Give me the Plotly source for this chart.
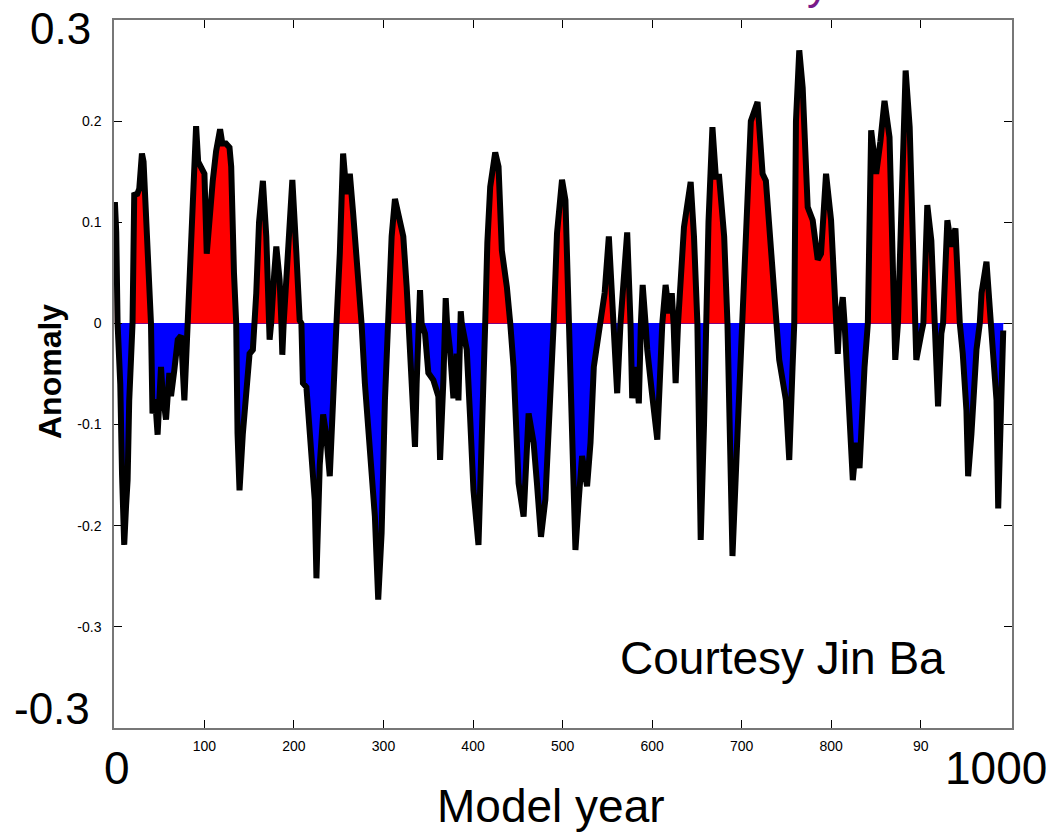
import plotly.graph_objects as go

# Model year / anomaly (turning points and zero crossings)
years = [
    0, 1.5, 3, 6, 8, 10.4, 12.5, 14.2, 16, 19.7,
    21.6, 25, 27.2, 30.2, 32, 34, 36.5, 40.3, 42, 45,
    47.7, 51.5, 53.3, 57.1, 60.8, 62.7, 66.4, 70.2, 73.9, 77.6,
    81.3, 84, 87, 90.7, 93, 96.3, 100, 102.6, 106, 109.3,
    113, 117.5, 120, 124, 128, 129.9, 133, 135.5, 137, 139.2,
    142.9, 147, 150.4, 154.1, 156, 157.9, 161, 165.3, 169.1, 170.9,
    172, 172.8, 174.5, 176.5, 178, 180.3, 184, 186, 187, 188.5,
    191, 193.3, 198.2, 202.7, 206.4, 208.3, 210, 213.9, 219.5, 223.2,
    225.1, 228.8, 232.6, 236, 240, 243.7, 247.5, 251.2, 254.9, 258.7,
    262.4, 266.1, 269.9, 273.6, 275.5, 279.2, 284.8, 290.4, 294.1, 297.9,
    301.6, 305.3, 309.1, 312.8, 318.4, 322.1, 325.9, 327.7, 331.4, 335.2,
    337, 339, 340.8, 342.6, 346.4, 350.1, 355.7, 361.3, 363.2, 366.9,
    368, 369.5, 371, 372.5, 374.3, 378.1, 381.8, 383.7, 385.5, 386.3,
    387.4, 390, 393, 396.7, 400.5, 406.1, 409.8, 413.6, 416, 419.2,
    424.8, 428.5, 432.2, 437.8, 441.6, 445.3, 450.9, 456.5, 462.1, 467.7,
    471.4, 475.9, 480.8, 486.4, 490.1, 493.8, 499.4, 503.2, 506.9, 510.6,
    514.4, 518.1, 521.8, 527.4, 531.2, 534.9, 540.5, 543.1, 547, 551.7,
    555.4, 557.5, 561, 564.7, 568, 572.2, 575.9, 577.8, 581.5, 585.2,
    587.5, 589.5, 592.7, 594.6, 600, 605.8, 611.4, 615.1, 619, 622,
    624, 626.3, 629, 631, 635.6, 643.1, 646.8, 650.6, 654.3, 658,
    659.9, 663, 667.4, 671.2, 674.9, 680.5, 684.2, 686, 689.8, 695.4,
    701, 703, 710.3, 717.8, 723.4, 727.1, 732.7, 738.3, 742, 749.5,
    753.2, 756.9, 758.8, 760.7, 764.4, 768.2, 773.8, 779.4, 785, 788.7,
    794.3, 799.9, 805.5, 807.4, 809, 813, 815, 820.5, 824.2, 828,
    831.7, 837.3, 841, 844.7, 850.3, 855, 859.6, 865.2, 869, 870.8,
    871.6, 874.6, 880.2, 883.2, 887.7, 893.3, 895.1, 900.7, 903, 907.4,
    911.9, 915.7, 919.4, 923.1, 925, 929.8, 934.3, 938.8, 943.7, 947,
    951.1, 953, 956.7, 962.3, 966, 968, 973.5, 978.4, 984.7, 986.6,
    988.5, 992.2,
]
anomaly = [
    0.12, 0.09, 0, -0.06, -0.15, -0.219, -0.18, -0.155, -0.076, 0,
    0.127, 0.128, 0.133, 0.168, 0.16, 0.12, 0.06, 0, -0.089, -0.075,
    -0.110, -0.043, -0.069, -0.095, -0.049, -0.072, -0.046, -0.016, -0.012, -0.076,
    0, 0.06, 0.14, 0.195, 0.16, 0.155, 0.148, 0.069, 0.11, 0.141,
    0.17, 0.192, 0.178, 0.178, 0.174, 0.155, 0.05, 0, -0.109, -0.165,
    -0.109, -0.06, -0.030, -0.026, 0, 0.030, 0.10, 0.141, 0.086, 0.036,
    0, -0.016, 0, 0.020, 0.05, 0.076, 0.043, 0, -0.031, 0,
    0.04, 0.069, 0.142, 0.069, 0.003, 0, -0.059, -0.063, -0.125, -0.174,
    -0.252, -0.14, -0.09, -0.11, -0.151, -0.09, 0, 0.069, 0.168, 0.128,
    0.148, 0.109, 0.069, 0.036, 0, -0.059, -0.118, -0.191, -0.273, -0.207,
    -0.076, 0, 0.086, 0.123, 0.102, 0.086, 0.036, 0, -0.059, -0.122,
    -0.06, 0, 0.033, 0, -0.010, -0.049, -0.056, -0.072, -0.135, -0.056,
    0, 0.025, 0, -0.01, -0.026, -0.074, -0.030, -0.076, 0, 0.012,
    0, -0.01, -0.026, -0.092, -0.165, -0.219, -0.125, 0, 0.08, 0.135,
    0.169, 0.155, 0.072, 0.036, 0, -0.043, -0.158, -0.191, -0.089, -0.118,
    -0.158, -0.211, -0.174, -0.076, 0, 0.089, 0.142, 0.122, 0, -0.076,
    -0.224, -0.174, -0.131, -0.161, -0.118, -0.043, -0.010, 0, 0.03, 0.086,
    0.023, 0, -0.069, 0, 0.04, 0.09, 0, -0.074, -0.043, -0.079,
    0, 0.038, 0, -0.026, -0.07, -0.115, 0, 0.038, 0.01, 0.03,
    0, -0.059, 0, 0.026, 0.095, 0.14, 0.086, 0, -0.214, -0.1,
    0, 0.1, 0.194, 0.145, 0.145, 0.086, 0, -0.07, -0.23, -0.109,
    0, 0.056, 0.20, 0.219, 0.148, 0.141, 0.069, 0, -0.036, -0.076,
    -0.135, -0.043, 0, 0.2, 0.27, 0.233, 0.115, 0.102, 0.063, 0.069,
    0.148, 0.102, 0, -0.030, 0, 0.026, 0, -0.086, -0.155, -0.118,
    -0.143, -0.043, 0, 0.191, 0.148, 0.18, 0.220, 0.184, 0.05, 0,
    -0.036, 0, 0.20, 0.25, 0.194, 0, -0.036, -0.01, 0, 0.117,
    0.082, 0, -0.082, -0.01, 0, 0.102, 0.076, 0.094, 0, -0.03,
    -0.086, -0.151, -0.109, -0.026, 0, 0.03, 0.061, 0, -0.076, -0.183,
    -0.109, -0.007,
]

x_tickvals = [100, 200, 300, 400, 500, 600, 700, 800, 900]
x_ticktext = ['100', '200', '300', '400', '500', '600', '700', '800', '90']
y_tickvals = [-0.3, -0.2, -0.1, 0, 0.1, 0.2]
y_ticktext = ['-0.3', '-0.2', '-0.1', '0', '0.1', '0.2']

W, H = 1052, 837
L, R, T, B = 114, 40, 20, 109
FONT = 'Liberation Sans, Arial, sans-serif'


def px_to_paper(px, py):
    # page pixel position -> paper coordinates of the plot area
    return (px - L) / (W - L - R), (H - B - py) / (H - T - B)


positive = [max(v, 0) for v in anomaly]
negative = [min(v, 0) for v in anomaly]

fig = go.Figure()

# Red fill above zero, blue fill below
fig.add_trace(go.Scatter(x=years, y=positive, mode='lines', fill='tozeroy',
                         fillcolor='#ff0000', line=dict(width=0, color='#ff0000'),
                         hoverinfo='skip'))
fig.add_trace(go.Scatter(x=years, y=negative, mode='lines', fill='tozeroy',
                         fillcolor='#0000ff', line=dict(width=0, color='#0000ff'),
                         hoverinfo='skip'))
# Thick black curve
fig.add_trace(go.Scatter(x=years, y=anomaly, mode='lines',
                         line=dict(color='black', width=6)))

fig.update_xaxes(
    range=[-1, 1002], showgrid=False, zeroline=False,
    showline=True, linecolor='#777777', linewidth=1.5, mirror='ticks',
    ticks='inside', ticklen=8, tickcolor='black', tickwidth=1,
    tickvals=x_tickvals, ticktext=x_ticktext,
    tickfont=dict(family=FONT, size=14, color='black'),
    ticklabelstandoff=4,
)
fig.update_yaxes(
    range=[-0.4, 0.3], showgrid=False,
    zeroline=True, zerolinecolor='#0000ff', zerolinewidth=1.2,
    showline=True, linecolor='#777777', linewidth=1.5, mirror='ticks',
    ticks='inside', ticklen=8, tickcolor='black', tickwidth=1,
    tickvals=y_tickvals, ticktext=y_ticktext,
    tickfont=dict(family=FONT, size=14, color='black'),
    ticklabelstandoff=8,
)

# Big overlay labels
labels = [
    ('0.3', 60, 28, 44, 'black'),
    ('-0.3', 52, 708, 44, 'black'),
    ('0', 117, 768, 46, 'black'),
    ('1000', 996, 768, 46, 'black'),
    ('Model year', 551, 806, 46, 'black'),
    ('Courtesy Jin Ba', 782, 658, 46, 'black'),
    ('y', 818, -17, 44, '#7a1a8a'),
]
for text, px, py, size, color in labels:
    xp, yp = px_to_paper(px, py)
    fig.add_annotation(text=text, x=xp, y=yp, xref='paper', yref='paper',
                       xanchor='center', yanchor='middle', showarrow=False,
                       font=dict(family=FONT, size=size, color=color))

xp, yp = px_to_paper(50, 372)
fig.add_annotation(text='<b>Anomaly</b>', x=xp, y=yp, xref='paper', yref='paper',
                   textangle=-90, xanchor='center', yanchor='middle', showarrow=False,
                   font=dict(family=FONT, size=32, color='black'))

fig.update_layout(
    width=W, height=H,
    margin=dict(l=L, r=R, t=T, b=B),
    plot_bgcolor='white', paper_bgcolor='white',
    showlegend=False,
)

# drop the default page margin so the figure sits at the window's corner
fig.write_html('out.html', config={'displayModeBar': False},
               post_script="document.body.style.margin='0';")
